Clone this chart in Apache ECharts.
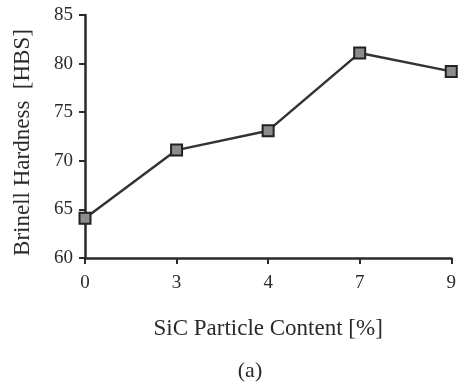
<!DOCTYPE html>
<html>
<head>
<meta charset="utf-8">
<script src="https://cdn.jsdelivr.net/npm/echarts@6/dist/echarts.min.js"></script>
<style>
  html, body { margin: 0; padding: 0; background: #fff; }
  #chart { width: 459px; height: 385px; }
</style>
</head>
<body>
<div id="chart"></div>
<script>
// SiC content categories and Brinell hardness values
const sicContent = ["0", "3", "4", "7", "9"];
const hardness = [64.1, 71.1, 73.1, 81.1, 79.2];

const chart = echarts.init(document.getElementById("chart"));
const font = "'Liberation Serif', 'DejaVu Serif', serif";
const ink = "#2a2a2a";

const option = {
  animation: false,
  textStyle: { fontFamily: font },
  grid: { left: 85, right: 4, top: 15, bottom: 127 },
  xAxis: {
    type: "category",
    data: sicContent,
    boundaryGap: false,
    name: "SiC Particle Content [%]",
    nameLocation: "middle",
    nameGap: 59,
    nameTextStyle: { fontFamily: font, fontSize: 23, color: ink },
    axisLine: { lineStyle: { color: ink, width: 2.5 } },
    axisTick: { show: true, alignWithLabel: true, length: 6, lineStyle: { color: ink, width: 2 } },
    axisLabel: { fontFamily: font, fontSize: 19, color: ink, margin: 16 },
    splitLine: { show: false }
  },
  yAxis: {
    type: "value",
    min: 60,
    max: 85,
    interval: 5,
    name: "Brinell Hardness  [HBS]",
    nameLocation: "middle",
    nameGap: 51,
    nameTextStyle: { fontFamily: font, fontSize: 23, color: ink, padding: [0, 12, 0, 0] },
    axisLine: { show: true, lineStyle: { color: ink, width: 2.5 } },
    axisTick: { show: true, length: 6, lineStyle: { color: ink, width: 2 } },
    axisLabel: { fontFamily: font, fontSize: 19, color: ink, margin: 12 },
    splitLine: { show: false }
  },
  graphic: [
    {
      type: "text",
      x: 250,
      y: 371,
      style: {
        text: "(a)",
        font: "22px " + font,
        fill: ink,
        textAlign: "center",
        textVerticalAlign: "middle"
      }
    }
  ],
  series: [
    {
      type: "line",
      data: hardness,
      symbol: "rect",
      symbolSize: 11,
      lineStyle: { color: "#333", width: 2.5 },
      itemStyle: { color: "#8c8c8c", borderColor: "#222", borderWidth: 2 }
    }
  ]
};

chart.setOption(option);
</script>
</body>
</html>
